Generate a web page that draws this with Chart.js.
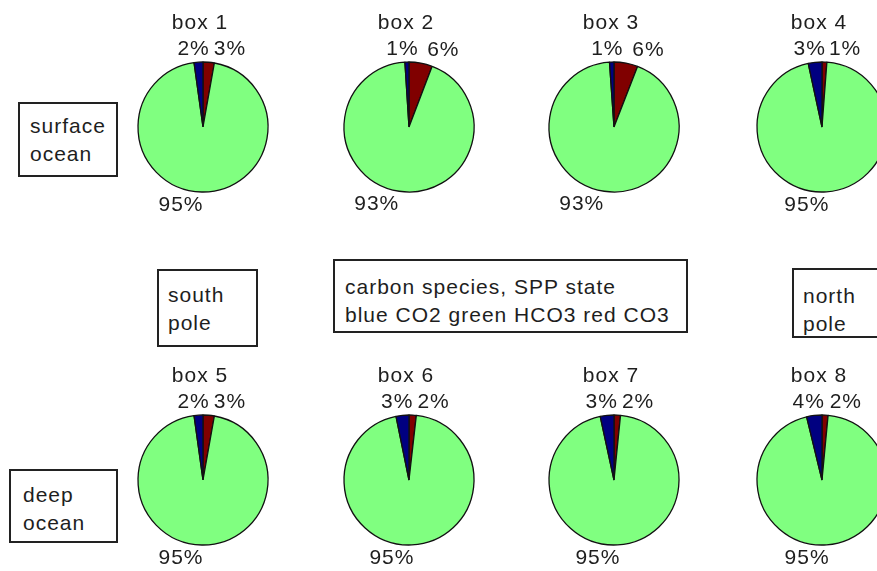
<!DOCTYPE html>
<html>
<head>
<meta charset="utf-8">
<script src="https://cdn.jsdelivr.net/npm/chart.js@4.4.0/dist/chart.umd.min.js"></script>
<style>
  html, body { margin: 0; padding: 0; background: #fff; overflow: hidden; }
  body { width: 877px; height: 571px; position: relative; }
  .pie { position: absolute; }
  .note {
    position: absolute;
    box-sizing: border-box;
    border: 2px solid #222;
    font-family: "Liberation Sans", Arial, sans-serif;
    font-size: 21px;
    line-height: 28px;
    letter-spacing: 1px;
    color: #1e1e1e;
    white-space: nowrap;
  }
</style>
</head>
<body>

<div class="note" style="left:18px;top:102px;width:100px;height:75px;padding:8px 0 0 10px;">surface<br>ocean</div>
<div class="note" style="left:9px;top:469px;width:109px;height:74px;padding:10px 0 0 12px;">deep<br>ocean</div>
<div class="note" style="left:157px;top:269px;width:101px;height:78px;padding:10px 0 0 9px;">south<br>pole</div>
<div class="note" style="left:792px;top:268px;width:100px;height:70px;padding:12px 0 0 9px;">north<br>pole</div>
<div class="note" style="left:333px;top:259px;width:355px;height:74px;padding:12px 0 0 10px;">carbon species, SPP state<br>blue CO2 green HCO3 red CO3</div>

<script>
// pie titles, one per ocean box
const boxTitles = ['box 1', 'box 2', 'box 3', 'box 4', 'box 5', 'box 6', 'box 7', 'box 8'];

// percentages of each carbon species per box
const co2  = [2.2, 1.0, 1.1, 3.4, 2.2, 3.2, 3.4, 3.8];        // blue
const hco3 = [95.0, 93.2, 93.0, 95.4, 95.0, 95.0, 95.0, 94.7]; // green
const co3  = [2.8, 5.8, 5.9, 1.2, 2.8, 1.8, 1.6, 1.5];        // red

const speciesColors = ['#800000', '#80ff80', '#000080']; // CO3, HCO3, CO2 (clockwise from top)

// pie centres on the page
const centersX = [203, 409, 614, 822];
const centersY = [127, 480];

const W = 206, H = 250, R = 65;
const FONT = '21px "Liberation Sans", Arial, sans-serif';

// draws the title and the percent labels next to each slice
const pieText = {
    id: 'pieText',
    afterDatasetsDraw(chart, args, opts) {
        const ctx = chart.ctx;
        const meta = chart.getDatasetMeta(0);
        const values = chart.data.datasets[0].data;
        const total = values.reduce((a, b) => a + b, 0);
        ctx.save();
        ctx.font = FONT;
        ctx.letterSpacing = '1px';
        ctx.fillStyle = '#1e1e1e';

        const first = meta.data[0];
        ctx.textAlign = 'center';
        ctx.textBaseline = 'alphabetic';
        ctx.fillText(opts.title, first.x - 3, first.y - 98);

        ctx.textBaseline = 'middle';
        meta.data.forEach((arc, i) => {
            const mid = (arc.startAngle + arc.endAngle) / 2;
            const r = arc.outerRadius * 1.2;
            let x = arc.x + Math.cos(mid) * r;
            const y = arc.y + Math.sin(mid) * r;
            const txt = Math.round(values[i] / total * 100) + '%';
            if (i === 0) {          // red, right of the top
                ctx.textAlign = 'left';
                x += 4;
            } else if (i === 1) {   // green, bottom
                ctx.textAlign = 'right';
                x += 2;
            } else {                // blue, left of the top
                ctx.textAlign = 'center';
                x -= 4;
            }
            ctx.fillText(txt, x, y);
        });
        ctx.restore();
    }
};

boxTitles.forEach((title, i) => {
    const cx = centersX[i % 4];
    const cy = centersY[Math.floor(i / 4)];
    const canvas = document.createElement('canvas');
    canvas.className = 'pie';
    canvas.width = W;
    canvas.height = H;
    canvas.style.left = (cx - W / 2) + 'px';
    canvas.style.top = (cy - H / 2) + 'px';
    document.body.appendChild(canvas);

    new Chart(canvas, {
        type: 'pie',
        data: {
            labels: ['CO3', 'HCO3', 'CO2'],
            datasets: [{
                data: [co3[i], hco3[i], co2[i]],
                backgroundColor: speciesColors,
                borderColor: '#111',
                borderWidth: 1.3
            }]
        },
        options: {
            responsive: false,
            animation: false,
            events: [],
            radius: R,
            layout: { padding: 0 },
            plugins: {
                legend: { display: false },
                tooltip: { enabled: false },
                pieText: { title: title }
            }
        },
        plugins: [pieText]
    });
});
</script>
</body>
</html>
